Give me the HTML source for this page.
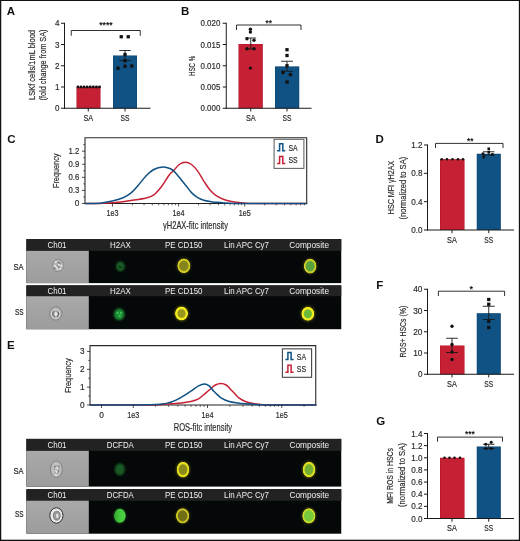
<!DOCTYPE html>
<html lang="en">
<head>
<meta charset="utf-8">
<title>Figure</title>
<style>
html,body{margin:0;padding:0;background:#fff;}
body{width:520px;height:541px;overflow:hidden;}
svg{display:block;}
svg text{font-family:'Liberation Sans', 'DejaVu Sans', sans-serif;}
</style>
</head>
<body>
<svg width="520" height="541" viewBox="0 0 520 541">
<defs>
<radialGradient id="rg0"><stop offset="0" stop-color="#86841c"/><stop offset="0.611" stop-color="#86841c"/><stop offset="0.753" stop-color="#d2cb22"/><stop offset="0.896" stop-color="#d2cb22"/><stop offset="1" stop-color="#d2cb22" stop-opacity="0"/></radialGradient>
<radialGradient id="rg1"><stop offset="0" stop-color="#98961c"/><stop offset="0.525" stop-color="#98961c"/><stop offset="0.691" stop-color="#f2ea1e"/><stop offset="0.892" stop-color="#f2ea1e"/><stop offset="1" stop-color="#f2ea1e" stop-opacity="0"/></radialGradient>
<radialGradient id="rg2"><stop offset="0" stop-color="#5aa440"/><stop offset="0.608" stop-color="#5aa440"/><stop offset="0.752" stop-color="#cfcf28"/><stop offset="0.895" stop-color="#cfcf28"/><stop offset="1" stop-color="#cfcf28" stop-opacity="0"/></radialGradient>
<radialGradient id="rg3"><stop offset="0" stop-color="#6cb83a"/><stop offset="0.525" stop-color="#6cb83a"/><stop offset="0.691" stop-color="#f2ec1e"/><stop offset="0.892" stop-color="#f2ec1e"/><stop offset="1" stop-color="#f2ec1e" stop-opacity="0"/></radialGradient>
<radialGradient id="rg4"><stop offset="0" stop-color="#8c8a1a"/><stop offset="0.592" stop-color="#8c8a1a"/><stop offset="0.738" stop-color="#e8e01e"/><stop offset="0.898" stop-color="#e8e01e"/><stop offset="1" stop-color="#e8e01e" stop-opacity="0"/></radialGradient>
<radialGradient id="rg5"><stop offset="0" stop-color="#706e16"/><stop offset="0.622" stop-color="#706e16"/><stop offset="0.760" stop-color="#cbc420"/><stop offset="0.899" stop-color="#cbc420"/><stop offset="1" stop-color="#cbc420" stop-opacity="0"/></radialGradient>
<radialGradient id="rg6"><stop offset="0" stop-color="#76b032"/><stop offset="0.605" stop-color="#76b032"/><stop offset="0.748" stop-color="#e2e220"/><stop offset="0.898" stop-color="#e2e220"/><stop offset="1" stop-color="#e2e220" stop-opacity="0"/></radialGradient>
<radialGradient id="rg7"><stop offset="0" stop-color="#7acb3a"/><stop offset="0.660" stop-color="#7acb3a"/><stop offset="0.789" stop-color="#cfdc2a"/><stop offset="0.898" stop-color="#cfdc2a"/><stop offset="1" stop-color="#cfdc2a" stop-opacity="0"/></radialGradient>
<filter id="b0" x="-30%" y="-30%" width="160%" height="160%"><feGaussianBlur stdDeviation="0.3"/></filter>
<filter id="b1" x="-30%" y="-30%" width="160%" height="160%"><feGaussianBlur stdDeviation="0.5"/></filter>
<linearGradient id="dg" x1="0" y1="0" x2="1" y2="0"><stop offset="0" stop-color="#2f9e30"/><stop offset="0.55" stop-color="#48d23e"/><stop offset="1" stop-color="#56e048"/></linearGradient>
<linearGradient id="gg" x1="0" y1="0" x2="0" y2="1"><stop offset="0" stop-color="#a9a9a9"/><stop offset="1" stop-color="#9c9c9c"/></linearGradient>
<filter id="b2" x="-40%" y="-40%" width="180%" height="180%"><feGaussianBlur stdDeviation="0.9"/></filter>
</defs>
<g opacity="0.999">
<rect x="0" y="0" width="520" height="541" fill="#ffffff"/>
<text x="6.80" y="15.20" font-size="11.5" text-anchor="start" fill="#111" font-weight="bold" >A</text>
<rect x="76.50" y="87.00" width="24.00" height="21.25" fill="#ad1328"/>
<rect x="76.95" y="87.45" width="23.10" height="20.80" fill="#c62035"/>
<rect x="113.00" y="55.50" width="24.00" height="52.75" fill="#0a426e"/>
<rect x="113.45" y="55.95" width="23.10" height="52.30" fill="#0f5283"/>
<line x1="64.50" y1="22.75" x2="64.50" y2="108.75" stroke="#1a1a1a" stroke-width="1" stroke-linecap="butt"/>
<line x1="64.00" y1="108.25" x2="150.50" y2="108.25" stroke="#1a1a1a" stroke-width="1" stroke-linecap="butt"/>
<line x1="61.00" y1="108.25" x2="64.50" y2="108.25" stroke="#1a1a1a" stroke-width="1.0" stroke-linecap="butt"/>
<text x="55.00" y="111.35" font-size="9" text-anchor="start" fill="#2a2a2a" textLength="4.50" lengthAdjust="spacingAndGlyphs" stroke="#2a2a2a" stroke-width="0.18" >0</text>
<line x1="61.00" y1="87.00" x2="64.50" y2="87.00" stroke="#1a1a1a" stroke-width="1.0" stroke-linecap="butt"/>
<text x="55.00" y="90.10" font-size="9" text-anchor="start" fill="#2a2a2a" textLength="4.50" lengthAdjust="spacingAndGlyphs" stroke="#2a2a2a" stroke-width="0.18" >1</text>
<line x1="61.00" y1="65.75" x2="64.50" y2="65.75" stroke="#1a1a1a" stroke-width="1.0" stroke-linecap="butt"/>
<text x="55.00" y="68.85" font-size="9" text-anchor="start" fill="#2a2a2a" textLength="4.50" lengthAdjust="spacingAndGlyphs" stroke="#2a2a2a" stroke-width="0.18" >2</text>
<line x1="61.00" y1="44.50" x2="64.50" y2="44.50" stroke="#1a1a1a" stroke-width="1.0" stroke-linecap="butt"/>
<text x="55.00" y="47.60" font-size="9" text-anchor="start" fill="#2a2a2a" textLength="4.50" lengthAdjust="spacingAndGlyphs" stroke="#2a2a2a" stroke-width="0.18" >3</text>
<line x1="61.00" y1="23.25" x2="64.50" y2="23.25" stroke="#1a1a1a" stroke-width="1.0" stroke-linecap="butt"/>
<text x="55.00" y="26.35" font-size="9" text-anchor="start" fill="#2a2a2a" textLength="4.50" lengthAdjust="spacingAndGlyphs" stroke="#2a2a2a" stroke-width="0.18" >4</text>
<line x1="88.25" y1="108.25" x2="88.25" y2="111.45" stroke="#1a1a1a" stroke-width="1.0" stroke-linecap="butt"/>
<text x="83.38" y="120.90" font-size="9" text-anchor="start" fill="#2a2a2a" textLength="9.75" lengthAdjust="spacingAndGlyphs" stroke="#2a2a2a" stroke-width="0.18" >SA</text>
<line x1="125.00" y1="108.25" x2="125.00" y2="111.45" stroke="#1a1a1a" stroke-width="1.0" stroke-linecap="butt"/>
<text x="120.55" y="120.90" font-size="9" text-anchor="start" fill="#2a2a2a" textLength="8.90" lengthAdjust="spacingAndGlyphs" stroke="#2a2a2a" stroke-width="0.18" >SS</text>
<text transform="translate(34.75 65.00) rotate(-90)" x="-35.00" y="0" font-size="9.8" text-anchor="start" fill="#2a2a2a" textLength="70.00" lengthAdjust="spacingAndGlyphs" stroke="#2a2a2a" stroke-width="0.18" >LSKf cells/1mL blood</text>
<text transform="translate(46.25 65.00) rotate(-90)" x="-35.50" y="0" font-size="9.8" text-anchor="start" fill="#2a2a2a" textLength="71.00" lengthAdjust="spacingAndGlyphs" stroke="#2a2a2a" stroke-width="0.18" >(fold change from SA)</text>
<path d="M71.25 35.75V30.50H140.25V35.75" fill="none" stroke="#1a1a1a" stroke-width="0.9"/>
<text x="99.20" y="28.15" font-size="9" text-anchor="start" fill="#111" textLength="13.40" lengthAdjust="spacingAndGlyphs" font-weight="bold" >****</text>
<line x1="125.00" y1="50.50" x2="125.00" y2="60.50" stroke="#1a1a1a" stroke-width="0.9" stroke-linecap="butt"/>
<line x1="119.25" y1="50.50" x2="130.75" y2="50.50" stroke="#1a1a1a" stroke-width="0.9" stroke-linecap="butt"/>
<line x1="119.25" y1="60.50" x2="130.75" y2="60.50" stroke="#1a1a1a" stroke-width="0.9" stroke-linecap="butt"/>
<circle cx="78.00" cy="87.00" r="1.45" fill="#111"/>
<circle cx="81.07" cy="87.00" r="1.45" fill="#111"/>
<circle cx="84.14" cy="87.00" r="1.45" fill="#111"/>
<circle cx="87.21" cy="87.00" r="1.45" fill="#111"/>
<circle cx="90.29" cy="87.00" r="1.45" fill="#111"/>
<circle cx="93.36" cy="87.00" r="1.45" fill="#111"/>
<circle cx="96.43" cy="87.00" r="1.45" fill="#111"/>
<circle cx="99.50" cy="87.00" r="1.45" fill="#111"/>
<rect x="119.60" y="35.10" width="3.3" height="3.3" fill="#111"/>
<rect x="126.60" y="35.10" width="3.3" height="3.3" fill="#111"/>
<rect x="123.35" y="52.85" width="3.3" height="3.3" fill="#111"/>
<rect x="123.35" y="59.10" width="3.3" height="3.3" fill="#111"/>
<rect x="116.35" y="66.60" width="3.3" height="3.3" fill="#111"/>
<rect x="123.35" y="64.60" width="3.3" height="3.3" fill="#111"/>
<rect x="130.10" y="64.35" width="3.3" height="3.3" fill="#111"/>
<text x="181.00" y="15.20" font-size="11.5" text-anchor="start" fill="#111" font-weight="bold" >B</text>
<rect x="238.50" y="44.00" width="24.25" height="64.25" fill="#ad1328"/>
<rect x="238.95" y="44.45" width="23.35" height="63.80" fill="#c62035"/>
<rect x="275.00" y="66.45" width="24.25" height="41.80" fill="#0a426e"/>
<rect x="275.45" y="66.90" width="23.35" height="41.35" fill="#0f5283"/>
<line x1="226.25" y1="22.75" x2="226.25" y2="108.75" stroke="#1a1a1a" stroke-width="1" stroke-linecap="butt"/>
<line x1="225.75" y1="108.25" x2="311.50" y2="108.25" stroke="#1a1a1a" stroke-width="1" stroke-linecap="butt"/>
<line x1="222.75" y1="108.25" x2="226.25" y2="108.25" stroke="#1a1a1a" stroke-width="1.0" stroke-linecap="butt"/>
<text x="200.50" y="111.35" font-size="9" text-anchor="start" fill="#2a2a2a" textLength="19.80" lengthAdjust="spacingAndGlyphs" stroke="#2a2a2a" stroke-width="0.18" >0.000</text>
<line x1="222.75" y1="87.00" x2="226.25" y2="87.00" stroke="#1a1a1a" stroke-width="1.0" stroke-linecap="butt"/>
<text x="200.50" y="90.10" font-size="9" text-anchor="start" fill="#2a2a2a" textLength="19.80" lengthAdjust="spacingAndGlyphs" stroke="#2a2a2a" stroke-width="0.18" >0.005</text>
<line x1="222.75" y1="65.75" x2="226.25" y2="65.75" stroke="#1a1a1a" stroke-width="1.0" stroke-linecap="butt"/>
<text x="200.50" y="68.85" font-size="9" text-anchor="start" fill="#2a2a2a" textLength="19.80" lengthAdjust="spacingAndGlyphs" stroke="#2a2a2a" stroke-width="0.18" >0.010</text>
<line x1="222.75" y1="44.50" x2="226.25" y2="44.50" stroke="#1a1a1a" stroke-width="1.0" stroke-linecap="butt"/>
<text x="200.50" y="47.60" font-size="9" text-anchor="start" fill="#2a2a2a" textLength="19.80" lengthAdjust="spacingAndGlyphs" stroke="#2a2a2a" stroke-width="0.18" >0.015</text>
<line x1="222.75" y1="23.25" x2="226.25" y2="23.25" stroke="#1a1a1a" stroke-width="1.0" stroke-linecap="butt"/>
<text x="200.50" y="26.35" font-size="9" text-anchor="start" fill="#2a2a2a" textLength="19.80" lengthAdjust="spacingAndGlyphs" stroke="#2a2a2a" stroke-width="0.18" >0.020</text>
<line x1="250.75" y1="108.25" x2="250.75" y2="111.45" stroke="#1a1a1a" stroke-width="1.0" stroke-linecap="butt"/>
<text x="245.88" y="120.90" font-size="9" text-anchor="start" fill="#2a2a2a" textLength="9.75" lengthAdjust="spacingAndGlyphs" stroke="#2a2a2a" stroke-width="0.18" >SA</text>
<line x1="287.00" y1="108.25" x2="287.00" y2="111.45" stroke="#1a1a1a" stroke-width="1.0" stroke-linecap="butt"/>
<text x="282.55" y="120.90" font-size="9" text-anchor="start" fill="#2a2a2a" textLength="8.90" lengthAdjust="spacingAndGlyphs" stroke="#2a2a2a" stroke-width="0.18" >SS</text>
<text transform="translate(195.20 65.90) rotate(-90)" x="-10.15" y="0" font-size="9.8" text-anchor="start" fill="#2a2a2a" textLength="20.30" lengthAdjust="spacingAndGlyphs" stroke="#2a2a2a" stroke-width="0.18" >HSC %</text>
<path d="M236.50 30.00V25.00H301.00V30.00" fill="none" stroke="#1a1a1a" stroke-width="0.9"/>
<text x="265.55" y="26.05" font-size="9" text-anchor="start" fill="#111" textLength="6.40" lengthAdjust="spacingAndGlyphs" font-weight="bold" >**</text>
<line x1="250.75" y1="38.00" x2="250.75" y2="49.00" stroke="#1a1a1a" stroke-width="0.9" stroke-linecap="butt"/>
<line x1="245.38" y1="38.00" x2="256.12" y2="38.00" stroke="#1a1a1a" stroke-width="0.9" stroke-linecap="butt"/>
<line x1="245.38" y1="49.00" x2="256.12" y2="49.00" stroke="#1a1a1a" stroke-width="0.9" stroke-linecap="butt"/>
<line x1="287.00" y1="61.25" x2="287.00" y2="71.25" stroke="#1a1a1a" stroke-width="0.9" stroke-linecap="butt"/>
<line x1="281.12" y1="61.25" x2="292.88" y2="61.25" stroke="#1a1a1a" stroke-width="0.9" stroke-linecap="butt"/>
<line x1="281.12" y1="71.25" x2="292.88" y2="71.25" stroke="#1a1a1a" stroke-width="0.9" stroke-linecap="butt"/>
<circle cx="250.40" cy="29.30" r="1.7" fill="#111"/>
<circle cx="250.40" cy="32.10" r="1.7" fill="#111"/>
<circle cx="247.00" cy="38.70" r="1.7" fill="#111"/>
<circle cx="254.00" cy="40.30" r="1.7" fill="#111"/>
<circle cx="247.00" cy="48.80" r="1.7" fill="#111"/>
<circle cx="254.00" cy="48.80" r="1.7" fill="#111"/>
<circle cx="250.40" cy="68.10" r="1.7" fill="#111"/>
<rect x="285.35" y="48.05" width="3.3" height="3.3" fill="#111"/>
<rect x="285.35" y="53.85" width="3.3" height="3.3" fill="#111"/>
<rect x="285.35" y="64.10" width="3.3" height="3.3" fill="#111"/>
<rect x="281.35" y="70.85" width="3.3" height="3.3" fill="#111"/>
<rect x="288.75" y="72.95" width="3.3" height="3.3" fill="#111"/>
<rect x="285.45" y="80.35" width="3.3" height="3.3" fill="#111"/>
<text x="375.50" y="143.00" font-size="11.5" text-anchor="start" fill="#111" font-weight="bold" >D</text>
<rect x="440.00" y="159.25" width="24.50" height="70.75" fill="#ad1328"/>
<rect x="440.45" y="159.70" width="23.60" height="70.30" fill="#c62035"/>
<rect x="476.75" y="153.75" width="24.00" height="76.25" fill="#0a426e"/>
<rect x="477.20" y="154.20" width="23.10" height="75.80" fill="#0f5283"/>
<line x1="427.50" y1="144.50" x2="427.50" y2="230.50" stroke="#1a1a1a" stroke-width="1" stroke-linecap="butt"/>
<line x1="427.00" y1="230.00" x2="514.00" y2="230.00" stroke="#1a1a1a" stroke-width="1" stroke-linecap="butt"/>
<line x1="424.00" y1="230.00" x2="427.50" y2="230.00" stroke="#1a1a1a" stroke-width="1.0" stroke-linecap="butt"/>
<text x="411.25" y="233.10" font-size="9" text-anchor="start" fill="#2a2a2a" textLength="11.25" lengthAdjust="spacingAndGlyphs" stroke="#2a2a2a" stroke-width="0.18" >0.0</text>
<line x1="424.00" y1="201.67" x2="427.50" y2="201.67" stroke="#1a1a1a" stroke-width="1.0" stroke-linecap="butt"/>
<text x="411.25" y="204.77" font-size="9" text-anchor="start" fill="#2a2a2a" textLength="11.25" lengthAdjust="spacingAndGlyphs" stroke="#2a2a2a" stroke-width="0.18" >0.4</text>
<line x1="424.00" y1="173.33" x2="427.50" y2="173.33" stroke="#1a1a1a" stroke-width="1.0" stroke-linecap="butt"/>
<text x="411.25" y="176.43" font-size="9" text-anchor="start" fill="#2a2a2a" textLength="11.25" lengthAdjust="spacingAndGlyphs" stroke="#2a2a2a" stroke-width="0.18" >0.8</text>
<line x1="424.00" y1="145.00" x2="427.50" y2="145.00" stroke="#1a1a1a" stroke-width="1.0" stroke-linecap="butt"/>
<text x="411.25" y="148.10" font-size="9" text-anchor="start" fill="#2a2a2a" textLength="11.25" lengthAdjust="spacingAndGlyphs" stroke="#2a2a2a" stroke-width="0.18" >1.2</text>
<line x1="452.00" y1="230.00" x2="452.00" y2="233.20" stroke="#1a1a1a" stroke-width="1.0" stroke-linecap="butt"/>
<text x="447.12" y="243.40" font-size="9" text-anchor="start" fill="#2a2a2a" textLength="9.75" lengthAdjust="spacingAndGlyphs" stroke="#2a2a2a" stroke-width="0.18" >SA</text>
<line x1="488.75" y1="230.00" x2="488.75" y2="233.20" stroke="#1a1a1a" stroke-width="1.0" stroke-linecap="butt"/>
<text x="484.30" y="243.40" font-size="9" text-anchor="start" fill="#2a2a2a" textLength="8.90" lengthAdjust="spacingAndGlyphs" stroke="#2a2a2a" stroke-width="0.18" >SS</text>
<text transform="translate(393.80 187.50) rotate(-90)" x="-26.75" y="0" font-size="9.8" text-anchor="start" fill="#2a2a2a" textLength="53.50" lengthAdjust="spacingAndGlyphs" stroke="#2a2a2a" stroke-width="0.18" >HSC MFI γH2AX</text>
<text transform="translate(405.60 188.10) rotate(-90)" x="-31.30" y="0" font-size="9.8" text-anchor="start" fill="#2a2a2a" textLength="62.60" lengthAdjust="spacingAndGlyphs" stroke="#2a2a2a" stroke-width="0.18" >(normalized to SA)</text>
<path d="M435.50 148.00V143.40H503.00V148.00" fill="none" stroke="#1a1a1a" stroke-width="0.9"/>
<text x="467.00" y="143.75" font-size="9" text-anchor="start" fill="#111" textLength="6.40" lengthAdjust="spacingAndGlyphs" font-weight="bold" >**</text>
<line x1="488.75" y1="151.75" x2="488.75" y2="155.00" stroke="#1a1a1a" stroke-width="0.9" stroke-linecap="butt"/>
<line x1="483.00" y1="151.75" x2="494.50" y2="151.75" stroke="#1a1a1a" stroke-width="0.9" stroke-linecap="butt"/>
<line x1="483.00" y1="155.00" x2="494.50" y2="155.00" stroke="#1a1a1a" stroke-width="0.9" stroke-linecap="butt"/>
<circle cx="441.75" cy="159.25" r="1.3" fill="#111"/>
<circle cx="447.00" cy="159.25" r="1.3" fill="#111"/>
<circle cx="452.50" cy="159.25" r="1.3" fill="#111"/>
<circle cx="458.00" cy="159.25" r="1.3" fill="#111"/>
<circle cx="463.00" cy="159.25" r="1.3" fill="#111"/>
<rect x="487.45" y="147.45" width="2.6" height="2.6" fill="#111"/>
<rect x="481.70" y="152.45" width="2.6" height="2.6" fill="#111"/>
<rect x="487.45" y="150.70" width="2.6" height="2.6" fill="#111"/>
<rect x="491.20" y="153.20" width="2.6" height="2.6" fill="#111"/>
<rect x="482.45" y="155.70" width="2.6" height="2.6" fill="#111"/>
<text x="376.30" y="288.60" font-size="11.5" text-anchor="start" fill="#111" font-weight="bold" >F</text>
<rect x="440.00" y="345.50" width="24.50" height="28.75" fill="#ad1328"/>
<rect x="440.45" y="345.95" width="23.60" height="28.30" fill="#c62035"/>
<rect x="476.75" y="313.25" width="24.00" height="61.00" fill="#0a426e"/>
<rect x="477.20" y="313.70" width="23.10" height="60.55" fill="#0f5283"/>
<line x1="427.50" y1="288.75" x2="427.50" y2="374.75" stroke="#1a1a1a" stroke-width="1" stroke-linecap="butt"/>
<line x1="427.00" y1="374.25" x2="514.00" y2="374.25" stroke="#1a1a1a" stroke-width="1" stroke-linecap="butt"/>
<line x1="424.00" y1="374.25" x2="427.50" y2="374.25" stroke="#1a1a1a" stroke-width="1.0" stroke-linecap="butt"/>
<text x="418.00" y="377.35" font-size="9" text-anchor="start" fill="#2a2a2a" textLength="4.50" lengthAdjust="spacingAndGlyphs" stroke="#2a2a2a" stroke-width="0.18" >0</text>
<line x1="424.00" y1="353.00" x2="427.50" y2="353.00" stroke="#1a1a1a" stroke-width="1.0" stroke-linecap="butt"/>
<text x="413.25" y="356.10" font-size="9" text-anchor="start" fill="#2a2a2a" textLength="9.25" lengthAdjust="spacingAndGlyphs" stroke="#2a2a2a" stroke-width="0.18" >10</text>
<line x1="424.00" y1="331.75" x2="427.50" y2="331.75" stroke="#1a1a1a" stroke-width="1.0" stroke-linecap="butt"/>
<text x="413.25" y="334.85" font-size="9" text-anchor="start" fill="#2a2a2a" textLength="9.25" lengthAdjust="spacingAndGlyphs" stroke="#2a2a2a" stroke-width="0.18" >20</text>
<line x1="424.00" y1="310.50" x2="427.50" y2="310.50" stroke="#1a1a1a" stroke-width="1.0" stroke-linecap="butt"/>
<text x="413.25" y="313.60" font-size="9" text-anchor="start" fill="#2a2a2a" textLength="9.25" lengthAdjust="spacingAndGlyphs" stroke="#2a2a2a" stroke-width="0.18" >30</text>
<line x1="424.00" y1="289.25" x2="427.50" y2="289.25" stroke="#1a1a1a" stroke-width="1.0" stroke-linecap="butt"/>
<text x="413.25" y="292.35" font-size="9" text-anchor="start" fill="#2a2a2a" textLength="9.25" lengthAdjust="spacingAndGlyphs" stroke="#2a2a2a" stroke-width="0.18" >40</text>
<line x1="452.00" y1="374.25" x2="452.00" y2="377.45" stroke="#1a1a1a" stroke-width="1.0" stroke-linecap="butt"/>
<text x="447.12" y="386.65" font-size="9" text-anchor="start" fill="#2a2a2a" textLength="9.75" lengthAdjust="spacingAndGlyphs" stroke="#2a2a2a" stroke-width="0.18" >SA</text>
<line x1="488.75" y1="374.25" x2="488.75" y2="377.45" stroke="#1a1a1a" stroke-width="1.0" stroke-linecap="butt"/>
<text x="484.30" y="386.65" font-size="9" text-anchor="start" fill="#2a2a2a" textLength="8.90" lengthAdjust="spacingAndGlyphs" stroke="#2a2a2a" stroke-width="0.18" >SS</text>
<text transform="translate(406.30 331.60) rotate(-90)" x="-25.88" y="0" font-size="9.8" text-anchor="start" fill="#2a2a2a" textLength="51.75" lengthAdjust="spacingAndGlyphs" stroke="#2a2a2a" stroke-width="0.18" >ROS+ HSCs (%)</text>
<path d="M438.40 296.00V291.20H504.60V296.00" fill="none" stroke="#1a1a1a" stroke-width="0.9"/>
<text x="471.25" y="291.55" font-size="9" text-anchor="middle" fill="#111" font-weight="bold" >*</text>
<line x1="452.00" y1="338.25" x2="452.00" y2="352.50" stroke="#1a1a1a" stroke-width="0.9" stroke-linecap="butt"/>
<line x1="446.12" y1="338.25" x2="457.88" y2="338.25" stroke="#1a1a1a" stroke-width="0.9" stroke-linecap="butt"/>
<line x1="446.12" y1="352.50" x2="457.88" y2="352.50" stroke="#1a1a1a" stroke-width="0.9" stroke-linecap="butt"/>
<line x1="488.75" y1="306.25" x2="488.75" y2="319.50" stroke="#1a1a1a" stroke-width="0.9" stroke-linecap="butt"/>
<line x1="482.75" y1="306.25" x2="494.75" y2="306.25" stroke="#1a1a1a" stroke-width="0.9" stroke-linecap="butt"/>
<line x1="482.75" y1="319.50" x2="494.75" y2="319.50" stroke="#1a1a1a" stroke-width="0.9" stroke-linecap="butt"/>
<circle cx="452.00" cy="326.25" r="1.7" fill="#111"/>
<circle cx="452.00" cy="344.50" r="1.7" fill="#111"/>
<circle cx="452.00" cy="352.00" r="1.7" fill="#111"/>
<circle cx="452.00" cy="359.50" r="1.7" fill="#111"/>
<rect x="487.10" y="297.85" width="3.3" height="3.3" fill="#111"/>
<rect x="487.10" y="302.60" width="3.3" height="3.3" fill="#111"/>
<rect x="487.10" y="319.60" width="3.3" height="3.3" fill="#111"/>
<rect x="487.10" y="325.85" width="3.3" height="3.3" fill="#111"/>
<text x="376.30" y="425.00" font-size="11.5" text-anchor="start" fill="#111" font-weight="bold" >G</text>
<rect x="440.00" y="457.75" width="24.50" height="60.75" fill="#ad1328"/>
<rect x="440.45" y="458.20" width="23.60" height="60.30" fill="#c62035"/>
<rect x="476.75" y="446.50" width="24.00" height="72.00" fill="#0a426e"/>
<rect x="477.20" y="446.95" width="23.10" height="71.55" fill="#0f5283"/>
<line x1="427.50" y1="433.00" x2="427.50" y2="519.00" stroke="#1a1a1a" stroke-width="1" stroke-linecap="butt"/>
<line x1="427.00" y1="518.50" x2="514.00" y2="518.50" stroke="#1a1a1a" stroke-width="1" stroke-linecap="butt"/>
<line x1="424.00" y1="518.50" x2="427.50" y2="518.50" stroke="#1a1a1a" stroke-width="1.0" stroke-linecap="butt"/>
<text x="411.25" y="521.60" font-size="9" text-anchor="start" fill="#2a2a2a" textLength="11.25" lengthAdjust="spacingAndGlyphs" stroke="#2a2a2a" stroke-width="0.18" >0.0</text>
<line x1="424.00" y1="506.36" x2="427.50" y2="506.36" stroke="#1a1a1a" stroke-width="1.0" stroke-linecap="butt"/>
<text x="411.25" y="509.46" font-size="9" text-anchor="start" fill="#2a2a2a" textLength="11.25" lengthAdjust="spacingAndGlyphs" stroke="#2a2a2a" stroke-width="0.18" >0.2</text>
<line x1="424.00" y1="494.21" x2="427.50" y2="494.21" stroke="#1a1a1a" stroke-width="1.0" stroke-linecap="butt"/>
<text x="411.25" y="497.31" font-size="9" text-anchor="start" fill="#2a2a2a" textLength="11.25" lengthAdjust="spacingAndGlyphs" stroke="#2a2a2a" stroke-width="0.18" >0.4</text>
<line x1="424.00" y1="482.07" x2="427.50" y2="482.07" stroke="#1a1a1a" stroke-width="1.0" stroke-linecap="butt"/>
<text x="411.25" y="485.17" font-size="9" text-anchor="start" fill="#2a2a2a" textLength="11.25" lengthAdjust="spacingAndGlyphs" stroke="#2a2a2a" stroke-width="0.18" >0.6</text>
<line x1="424.00" y1="469.93" x2="427.50" y2="469.93" stroke="#1a1a1a" stroke-width="1.0" stroke-linecap="butt"/>
<text x="411.25" y="473.03" font-size="9" text-anchor="start" fill="#2a2a2a" textLength="11.25" lengthAdjust="spacingAndGlyphs" stroke="#2a2a2a" stroke-width="0.18" >0.8</text>
<line x1="424.00" y1="457.79" x2="427.50" y2="457.79" stroke="#1a1a1a" stroke-width="1.0" stroke-linecap="butt"/>
<text x="411.25" y="460.89" font-size="9" text-anchor="start" fill="#2a2a2a" textLength="11.25" lengthAdjust="spacingAndGlyphs" stroke="#2a2a2a" stroke-width="0.18" >1.0</text>
<line x1="424.00" y1="445.64" x2="427.50" y2="445.64" stroke="#1a1a1a" stroke-width="1.0" stroke-linecap="butt"/>
<text x="411.25" y="448.74" font-size="9" text-anchor="start" fill="#2a2a2a" textLength="11.25" lengthAdjust="spacingAndGlyphs" stroke="#2a2a2a" stroke-width="0.18" >1.2</text>
<line x1="424.00" y1="433.50" x2="427.50" y2="433.50" stroke="#1a1a1a" stroke-width="1.0" stroke-linecap="butt"/>
<text x="411.25" y="436.60" font-size="9" text-anchor="start" fill="#2a2a2a" textLength="11.25" lengthAdjust="spacingAndGlyphs" stroke="#2a2a2a" stroke-width="0.18" >1.4</text>
<line x1="452.00" y1="518.50" x2="452.00" y2="521.70" stroke="#1a1a1a" stroke-width="1.0" stroke-linecap="butt"/>
<text x="447.12" y="531.15" font-size="9" text-anchor="start" fill="#2a2a2a" textLength="9.75" lengthAdjust="spacingAndGlyphs" stroke="#2a2a2a" stroke-width="0.18" >SA</text>
<line x1="488.75" y1="518.50" x2="488.75" y2="521.70" stroke="#1a1a1a" stroke-width="1.0" stroke-linecap="butt"/>
<text x="484.30" y="531.15" font-size="9" text-anchor="start" fill="#2a2a2a" textLength="8.90" lengthAdjust="spacingAndGlyphs" stroke="#2a2a2a" stroke-width="0.18" >SS</text>
<text transform="translate(393.40 475.85) rotate(-90)" x="-27.85" y="0" font-size="9.8" text-anchor="start" fill="#2a2a2a" textLength="55.70" lengthAdjust="spacingAndGlyphs" stroke="#2a2a2a" stroke-width="0.18" >MFI ROS in HSCs</text>
<text transform="translate(405.20 475.00) rotate(-90)" x="-32.00" y="0" font-size="9.8" text-anchor="start" fill="#2a2a2a" textLength="64.00" lengthAdjust="spacingAndGlyphs" stroke="#2a2a2a" stroke-width="0.18" >(normalized to SA)</text>
<path d="M437.50 441.70V437.10H502.50V441.70" fill="none" stroke="#1a1a1a" stroke-width="0.9"/>
<text x="465.10" y="437.35" font-size="9" text-anchor="start" fill="#111" textLength="9.80" lengthAdjust="spacingAndGlyphs" font-weight="bold" >***</text>
<line x1="488.75" y1="444.25" x2="488.75" y2="448.50" stroke="#1a1a1a" stroke-width="0.9" stroke-linecap="butt"/>
<line x1="483.00" y1="444.25" x2="494.50" y2="444.25" stroke="#1a1a1a" stroke-width="0.9" stroke-linecap="butt"/>
<line x1="483.00" y1="448.50" x2="494.50" y2="448.50" stroke="#1a1a1a" stroke-width="0.9" stroke-linecap="butt"/>
<circle cx="444.50" cy="457.75" r="1.3" fill="#111"/>
<circle cx="449.50" cy="457.75" r="1.3" fill="#111"/>
<circle cx="454.50" cy="457.75" r="1.3" fill="#111"/>
<circle cx="460.00" cy="457.75" r="1.3" fill="#111"/>
<circle cx="485.80" cy="444.30" r="1.5" fill="#111"/>
<circle cx="491.20" cy="442.30" r="1.5" fill="#111"/>
<circle cx="486.00" cy="448.60" r="1.5" fill="#111"/>
<circle cx="491.20" cy="448.50" r="1.5" fill="#111"/>
<text x="7.20" y="143.00" font-size="11.5" text-anchor="start" fill="#111" font-weight="bold" >C</text>
<rect x="85.00" y="137.80" width="221.70" height="65.70" fill="#ffffff"/>
<path d="M85.00 203.50V137.80H306.70V203.50" fill="none" stroke="#2a2a2a" stroke-width="1.1"/>
<line x1="84.50" y1="203.50" x2="307.20" y2="203.50" stroke="#222" stroke-width="1.1" stroke-linecap="butt"/>
<path d="M85.5 203.5C87.9 203.5 95.0 203.6 100.0 203.4C105.0 203.2 110.3 203.1 115.4 202.6C120.5 202.1 125.7 201.4 130.8 200.6C135.9 199.8 142.4 198.9 146.2 198.0C150.0 197.1 151.2 196.8 153.8 194.9C156.4 193.0 158.9 189.8 161.5 186.5C164.1 183.2 167.0 177.8 169.2 175.0C171.4 172.2 172.9 171.2 174.6 169.5C176.3 167.8 177.4 165.7 179.2 164.5C181.0 163.3 183.3 162.3 185.4 162.3C187.5 162.3 189.4 163.0 191.5 164.5C193.6 166.0 195.6 168.3 197.7 171.1C199.8 173.9 201.8 177.9 203.8 181.1C205.9 184.2 207.9 187.6 210.0 190.0C212.1 192.4 213.9 194.1 216.2 195.7C218.5 197.3 221.2 198.6 223.8 199.5C226.4 200.4 228.9 200.9 231.5 201.4C234.1 201.9 236.1 202.3 239.2 202.6C242.3 202.9 244.9 203.2 250.0 203.4C255.1 203.6 260.6 203.5 270.0 203.5C279.4 203.5 300.4 203.5 306.5 203.5" fill="none" stroke="#c62035" stroke-width="1.5" stroke-linejoin="round" stroke-linecap="round"/>
<path d="M85.5 203.5C87.9 203.4 95.5 203.6 100.0 203.2C104.5 202.8 108.5 202.0 112.3 201.1C116.1 200.2 120.0 199.0 123.1 197.7C126.2 196.4 128.2 195.2 130.8 193.1C133.4 191.0 135.9 187.8 138.5 184.9C141.1 182.0 143.6 178.3 146.2 175.7C148.8 173.1 151.0 171.0 153.8 169.5C156.6 168.0 160.4 167.1 163.1 166.9C165.8 166.7 168.1 167.7 170.0 168.5C171.9 169.3 173.1 170.4 174.6 171.9C176.1 173.4 177.4 175.1 179.2 177.3C181.0 179.5 183.3 182.4 185.4 184.9C187.5 187.4 189.4 190.5 191.5 192.6C193.6 194.7 195.6 196.4 197.7 197.7C199.8 199.0 201.8 199.7 203.8 200.3C205.9 200.9 207.9 201.2 210.0 201.5C212.1 201.8 213.9 202.1 216.2 202.3C218.5 202.5 220.7 202.7 223.8 202.9C226.9 203.1 228.6 203.3 234.6 203.4C240.6 203.5 248.0 203.5 260.0 203.5C272.0 203.5 298.8 203.5 306.5 203.5" fill="none" stroke="#0f5283" stroke-width="1.5" stroke-linejoin="round" stroke-linecap="round"/>
<line x1="82.00" y1="203.50" x2="85.00" y2="203.50" stroke="#222" stroke-width="0.8" stroke-linecap="butt"/>
<text x="74.70" y="206.40" font-size="8.5" text-anchor="start" fill="#2a2a2a" textLength="4.60" lengthAdjust="spacingAndGlyphs" stroke="#2a2a2a" stroke-width="0.18" >0</text>
<line x1="82.00" y1="190.42" x2="85.00" y2="190.42" stroke="#222" stroke-width="0.8" stroke-linecap="butt"/>
<text x="68.50" y="193.32" font-size="8.5" text-anchor="start" fill="#2a2a2a" textLength="10.80" lengthAdjust="spacingAndGlyphs" stroke="#2a2a2a" stroke-width="0.18" >0.3</text>
<line x1="82.00" y1="177.34" x2="85.00" y2="177.34" stroke="#222" stroke-width="0.8" stroke-linecap="butt"/>
<text x="68.50" y="180.24" font-size="8.5" text-anchor="start" fill="#2a2a2a" textLength="10.80" lengthAdjust="spacingAndGlyphs" stroke="#2a2a2a" stroke-width="0.18" >0.6</text>
<line x1="82.00" y1="164.26" x2="85.00" y2="164.26" stroke="#222" stroke-width="0.8" stroke-linecap="butt"/>
<text x="68.50" y="167.16" font-size="8.5" text-anchor="start" fill="#2a2a2a" textLength="10.80" lengthAdjust="spacingAndGlyphs" stroke="#2a2a2a" stroke-width="0.18" >0.9</text>
<line x1="82.00" y1="151.18" x2="85.00" y2="151.18" stroke="#222" stroke-width="0.8" stroke-linecap="butt"/>
<text x="68.50" y="154.08" font-size="8.5" text-anchor="start" fill="#2a2a2a" textLength="10.80" lengthAdjust="spacingAndGlyphs" stroke="#2a2a2a" stroke-width="0.18" >1.2</text>
<line x1="83.20" y1="196.96" x2="85.00" y2="196.96" stroke="#222" stroke-width="0.7" stroke-linecap="butt"/>
<line x1="83.20" y1="183.88" x2="85.00" y2="183.88" stroke="#222" stroke-width="0.7" stroke-linecap="butt"/>
<line x1="83.20" y1="170.80" x2="85.00" y2="170.80" stroke="#222" stroke-width="0.7" stroke-linecap="butt"/>
<line x1="83.20" y1="157.72" x2="85.00" y2="157.72" stroke="#222" stroke-width="0.7" stroke-linecap="butt"/>
<line x1="83.20" y1="144.64" x2="85.00" y2="144.64" stroke="#222" stroke-width="0.7" stroke-linecap="butt"/>
<line x1="112.50" y1="203.50" x2="112.50" y2="206.50" stroke="#222" stroke-width="0.8" stroke-linecap="butt"/>
<text x="106.50" y="215.90" font-size="8.5" text-anchor="start" fill="#2a2a2a" textLength="12.00" lengthAdjust="spacingAndGlyphs" stroke="#2a2a2a" stroke-width="0.18" >1e3</text>
<line x1="178.60" y1="203.50" x2="178.60" y2="206.50" stroke="#222" stroke-width="0.8" stroke-linecap="butt"/>
<text x="172.60" y="215.90" font-size="8.5" text-anchor="start" fill="#2a2a2a" textLength="12.00" lengthAdjust="spacingAndGlyphs" stroke="#2a2a2a" stroke-width="0.18" >1e4</text>
<line x1="244.70" y1="203.50" x2="244.70" y2="206.50" stroke="#222" stroke-width="0.8" stroke-linecap="butt"/>
<text x="238.70" y="215.90" font-size="8.5" text-anchor="start" fill="#2a2a2a" textLength="12.00" lengthAdjust="spacingAndGlyphs" stroke="#2a2a2a" stroke-width="0.18" >1e5</text>
<line x1="132.40" y1="203.50" x2="132.40" y2="205.30" stroke="#222" stroke-width="0.7" stroke-linecap="butt"/>
<line x1="144.04" y1="203.50" x2="144.04" y2="205.30" stroke="#222" stroke-width="0.7" stroke-linecap="butt"/>
<line x1="152.30" y1="203.50" x2="152.30" y2="205.30" stroke="#222" stroke-width="0.7" stroke-linecap="butt"/>
<line x1="158.70" y1="203.50" x2="158.70" y2="205.30" stroke="#222" stroke-width="0.7" stroke-linecap="butt"/>
<line x1="163.94" y1="203.50" x2="163.94" y2="205.30" stroke="#222" stroke-width="0.7" stroke-linecap="butt"/>
<line x1="168.36" y1="203.50" x2="168.36" y2="205.30" stroke="#222" stroke-width="0.7" stroke-linecap="butt"/>
<line x1="172.19" y1="203.50" x2="172.19" y2="205.30" stroke="#222" stroke-width="0.7" stroke-linecap="butt"/>
<line x1="175.58" y1="203.50" x2="175.58" y2="205.30" stroke="#222" stroke-width="0.7" stroke-linecap="butt"/>
<line x1="198.50" y1="203.50" x2="198.50" y2="205.30" stroke="#222" stroke-width="0.7" stroke-linecap="butt"/>
<line x1="210.14" y1="203.50" x2="210.14" y2="205.30" stroke="#222" stroke-width="0.7" stroke-linecap="butt"/>
<line x1="218.40" y1="203.50" x2="218.40" y2="205.30" stroke="#222" stroke-width="0.7" stroke-linecap="butt"/>
<line x1="224.80" y1="203.50" x2="224.80" y2="205.30" stroke="#222" stroke-width="0.7" stroke-linecap="butt"/>
<line x1="230.04" y1="203.50" x2="230.04" y2="205.30" stroke="#222" stroke-width="0.7" stroke-linecap="butt"/>
<line x1="234.46" y1="203.50" x2="234.46" y2="205.30" stroke="#222" stroke-width="0.7" stroke-linecap="butt"/>
<line x1="238.29" y1="203.50" x2="238.29" y2="205.30" stroke="#222" stroke-width="0.7" stroke-linecap="butt"/>
<line x1="241.68" y1="203.50" x2="241.68" y2="205.30" stroke="#222" stroke-width="0.7" stroke-linecap="butt"/>
<line x1="264.60" y1="203.50" x2="264.60" y2="205.30" stroke="#222" stroke-width="0.7" stroke-linecap="butt"/>
<line x1="276.24" y1="203.50" x2="276.24" y2="205.30" stroke="#222" stroke-width="0.7" stroke-linecap="butt"/>
<line x1="284.50" y1="203.50" x2="284.50" y2="205.30" stroke="#222" stroke-width="0.7" stroke-linecap="butt"/>
<line x1="290.90" y1="203.50" x2="290.90" y2="205.30" stroke="#222" stroke-width="0.7" stroke-linecap="butt"/>
<line x1="296.14" y1="203.50" x2="296.14" y2="205.30" stroke="#222" stroke-width="0.7" stroke-linecap="butt"/>
<line x1="300.56" y1="203.50" x2="300.56" y2="205.30" stroke="#222" stroke-width="0.7" stroke-linecap="butt"/>
<line x1="304.39" y1="203.50" x2="304.39" y2="205.30" stroke="#222" stroke-width="0.7" stroke-linecap="butt"/>
<text x="163.10" y="228.65" font-size="10.8" text-anchor="start" fill="#2a2a2a" textLength="64.80" lengthAdjust="spacingAndGlyphs" stroke="#2a2a2a" stroke-width="0.18" >γH2AX-fitc intensity</text>
<text transform="translate(59.40 170.80) rotate(-90)" x="-17.25" y="0" font-size="9.8" text-anchor="start" fill="#2a2a2a" textLength="34.50" lengthAdjust="spacingAndGlyphs" stroke="#2a2a2a" stroke-width="0.18" >Frequency</text>
<rect x="274.10" y="139.30" width="29.80" height="29.10" fill="#ffffff" stroke="#666" stroke-width="1.1"/>
<path d="M277.10 150.85h2.5v-7.1h3.2v7.1h2.5" fill="none" stroke="#0f5283" stroke-width="1.5" stroke-linejoin="miter"/>
<text x="288.50" y="150.95" font-size="9" text-anchor="start" fill="#2a2a2a" textLength="9.20" lengthAdjust="spacingAndGlyphs" stroke="#2a2a2a" stroke-width="0.18" >SA</text>
<path d="M277.10 163.55h2.5v-7.1h3.2v7.1h2.5" fill="none" stroke="#c62035" stroke-width="1.5" stroke-linejoin="miter"/>
<text x="288.50" y="163.15" font-size="9" text-anchor="start" fill="#2a2a2a" textLength="9.20" lengthAdjust="spacingAndGlyphs" stroke="#2a2a2a" stroke-width="0.18" >SS</text>
<text x="6.90" y="349.40" font-size="11.5" text-anchor="start" fill="#111" font-weight="bold" >E</text>
<rect x="90.00" y="345.60" width="225.75" height="59.40" fill="#ffffff"/>
<path d="M90.00 405.00V345.60H315.75V405.00" fill="none" stroke="#2a2a2a" stroke-width="1.1"/>
<line x1="89.50" y1="405.00" x2="316.25" y2="405.00" stroke="#222" stroke-width="1.1" stroke-linecap="butt"/>
<path d="M90.5 405.0C98.8 405.0 128.4 405.1 140.0 405.0C151.6 404.9 154.1 404.9 160.0 404.7C165.9 404.4 171.6 403.8 175.4 403.5C179.2 403.2 180.5 403.0 183.1 402.7C185.7 402.4 188.2 402.1 190.8 401.5C193.4 400.9 195.9 400.3 198.5 398.9C201.1 397.4 204.0 394.5 206.2 392.7C208.4 390.9 210.0 389.3 211.5 388.0C213.0 386.7 213.8 385.8 215.4 385.0C217.0 384.2 219.0 383.5 220.8 383.5C222.6 383.5 224.7 384.1 226.2 385.0C227.7 385.9 228.6 387.4 230.0 388.8C231.4 390.2 233.1 391.9 234.6 393.5C236.1 395.1 237.4 396.8 239.2 398.1C241.0 399.4 243.1 400.6 245.4 401.5C247.7 402.4 250.5 403.0 253.1 403.5C255.7 404.0 258.0 404.2 260.8 404.5C263.6 404.8 260.8 404.9 270.0 405.0C279.2 405.1 308.2 405.0 315.8 405.0" fill="none" stroke="#c62035" stroke-width="1.5" stroke-linejoin="round" stroke-linecap="round"/>
<path d="M90.5 405.0C97.1 405.0 120.1 404.9 130.0 404.9C139.9 404.8 145.0 404.8 150.0 404.7C155.0 404.6 157.1 404.5 160.0 404.2C162.9 403.9 165.1 403.8 167.7 403.1C170.3 402.5 172.8 401.6 175.4 400.4C178.0 399.2 180.5 397.7 183.1 396.2C185.7 394.7 188.2 392.9 190.8 391.2C193.4 389.5 196.2 387.0 198.5 385.8C200.8 384.6 202.8 383.9 204.6 383.9C206.4 383.9 207.7 384.6 209.2 385.8C210.7 387.0 211.8 389.1 213.8 391.2C215.9 393.2 218.9 396.4 221.5 398.1C224.1 399.8 226.5 400.7 229.2 401.5C231.9 402.3 235.0 402.6 237.7 403.0C240.4 403.4 241.6 403.5 245.4 403.8C249.2 404.1 255.7 404.5 260.8 404.7C265.9 404.9 266.8 404.9 276.0 405.0C285.2 405.1 309.2 405.0 315.8 405.0" fill="none" stroke="#0f5283" stroke-width="1.5" stroke-linejoin="round" stroke-linecap="round"/>
<line x1="87.00" y1="405.00" x2="90.00" y2="405.00" stroke="#222" stroke-width="0.8" stroke-linecap="butt"/>
<text x="79.90" y="407.90" font-size="8.5" text-anchor="start" fill="#2a2a2a" textLength="4.60" lengthAdjust="spacingAndGlyphs" stroke="#2a2a2a" stroke-width="0.18" >0</text>
<line x1="87.00" y1="387.15" x2="90.00" y2="387.15" stroke="#222" stroke-width="0.8" stroke-linecap="butt"/>
<text x="79.90" y="390.05" font-size="8.5" text-anchor="start" fill="#2a2a2a" textLength="4.60" lengthAdjust="spacingAndGlyphs" stroke="#2a2a2a" stroke-width="0.18" >1</text>
<line x1="87.00" y1="369.30" x2="90.00" y2="369.30" stroke="#222" stroke-width="0.8" stroke-linecap="butt"/>
<text x="79.90" y="372.20" font-size="8.5" text-anchor="start" fill="#2a2a2a" textLength="4.60" lengthAdjust="spacingAndGlyphs" stroke="#2a2a2a" stroke-width="0.18" >2</text>
<line x1="87.00" y1="351.45" x2="90.00" y2="351.45" stroke="#222" stroke-width="0.8" stroke-linecap="butt"/>
<text x="79.90" y="354.35" font-size="8.5" text-anchor="start" fill="#2a2a2a" textLength="4.60" lengthAdjust="spacingAndGlyphs" stroke="#2a2a2a" stroke-width="0.18" >3</text>
<line x1="88.20" y1="396.07" x2="90.00" y2="396.07" stroke="#222" stroke-width="0.7" stroke-linecap="butt"/>
<line x1="88.20" y1="378.23" x2="90.00" y2="378.23" stroke="#222" stroke-width="0.7" stroke-linecap="butt"/>
<line x1="88.20" y1="360.38" x2="90.00" y2="360.38" stroke="#222" stroke-width="0.7" stroke-linecap="butt"/>
<line x1="101.50" y1="405.00" x2="101.50" y2="408.00" stroke="#222" stroke-width="0.8" stroke-linecap="butt"/>
<text x="99.20" y="417.90" font-size="8.5" text-anchor="start" fill="#2a2a2a" textLength="4.60" lengthAdjust="spacingAndGlyphs" stroke="#2a2a2a" stroke-width="0.18" >0</text>
<line x1="133.25" y1="405.00" x2="133.25" y2="408.00" stroke="#222" stroke-width="0.8" stroke-linecap="butt"/>
<text x="127.25" y="417.90" font-size="8.5" text-anchor="start" fill="#2a2a2a" textLength="12.00" lengthAdjust="spacingAndGlyphs" stroke="#2a2a2a" stroke-width="0.18" >1e3</text>
<line x1="207.50" y1="405.00" x2="207.50" y2="408.00" stroke="#222" stroke-width="0.8" stroke-linecap="butt"/>
<text x="201.50" y="417.90" font-size="8.5" text-anchor="start" fill="#2a2a2a" textLength="12.00" lengthAdjust="spacingAndGlyphs" stroke="#2a2a2a" stroke-width="0.18" >1e4</text>
<line x1="281.75" y1="405.00" x2="281.75" y2="408.00" stroke="#222" stroke-width="0.8" stroke-linecap="butt"/>
<text x="275.75" y="417.90" font-size="8.5" text-anchor="start" fill="#2a2a2a" textLength="12.00" lengthAdjust="spacingAndGlyphs" stroke="#2a2a2a" stroke-width="0.18" >1e5</text>
<line x1="155.60" y1="405.00" x2="155.60" y2="406.80" stroke="#222" stroke-width="0.7" stroke-linecap="butt"/>
<line x1="168.68" y1="405.00" x2="168.68" y2="406.80" stroke="#222" stroke-width="0.7" stroke-linecap="butt"/>
<line x1="177.95" y1="405.00" x2="177.95" y2="406.80" stroke="#222" stroke-width="0.7" stroke-linecap="butt"/>
<line x1="185.15" y1="405.00" x2="185.15" y2="406.80" stroke="#222" stroke-width="0.7" stroke-linecap="butt"/>
<line x1="191.03" y1="405.00" x2="191.03" y2="406.80" stroke="#222" stroke-width="0.7" stroke-linecap="butt"/>
<line x1="196.00" y1="405.00" x2="196.00" y2="406.80" stroke="#222" stroke-width="0.7" stroke-linecap="butt"/>
<line x1="200.30" y1="405.00" x2="200.30" y2="406.80" stroke="#222" stroke-width="0.7" stroke-linecap="butt"/>
<line x1="204.10" y1="405.00" x2="204.10" y2="406.80" stroke="#222" stroke-width="0.7" stroke-linecap="butt"/>
<line x1="229.85" y1="405.00" x2="229.85" y2="406.80" stroke="#222" stroke-width="0.7" stroke-linecap="butt"/>
<line x1="242.93" y1="405.00" x2="242.93" y2="406.80" stroke="#222" stroke-width="0.7" stroke-linecap="butt"/>
<line x1="252.20" y1="405.00" x2="252.20" y2="406.80" stroke="#222" stroke-width="0.7" stroke-linecap="butt"/>
<line x1="259.40" y1="405.00" x2="259.40" y2="406.80" stroke="#222" stroke-width="0.7" stroke-linecap="butt"/>
<line x1="265.28" y1="405.00" x2="265.28" y2="406.80" stroke="#222" stroke-width="0.7" stroke-linecap="butt"/>
<line x1="270.25" y1="405.00" x2="270.25" y2="406.80" stroke="#222" stroke-width="0.7" stroke-linecap="butt"/>
<line x1="274.55" y1="405.00" x2="274.55" y2="406.80" stroke="#222" stroke-width="0.7" stroke-linecap="butt"/>
<line x1="278.35" y1="405.00" x2="278.35" y2="406.80" stroke="#222" stroke-width="0.7" stroke-linecap="butt"/>
<line x1="304.10" y1="405.00" x2="304.10" y2="406.80" stroke="#222" stroke-width="0.7" stroke-linecap="butt"/>
<text x="173.78" y="431.00" font-size="10.8" text-anchor="start" fill="#2a2a2a" textLength="58.25" lengthAdjust="spacingAndGlyphs" stroke="#2a2a2a" stroke-width="0.18" >ROS-fitc intensity</text>
<text transform="translate(71.15 375.60) rotate(-90)" x="-17.25" y="0" font-size="9.8" text-anchor="start" fill="#2a2a2a" textLength="34.50" lengthAdjust="spacingAndGlyphs" stroke="#2a2a2a" stroke-width="0.18" >Frequency</text>
<rect x="282.40" y="348.85" width="29.20" height="28.45" fill="#ffffff" stroke="#444" stroke-width="1.1"/>
<path d="M285.40 359.60h2.5v-7.1h3.2v7.1h2.5" fill="none" stroke="#0f5283" stroke-width="1.5" stroke-linejoin="miter"/>
<text x="296.80" y="359.70" font-size="9" text-anchor="start" fill="#2a2a2a" textLength="9.20" lengthAdjust="spacingAndGlyphs" stroke="#2a2a2a" stroke-width="0.18" >SA</text>
<path d="M285.40 372.30h2.5v-7.1h3.2v7.1h2.5" fill="none" stroke="#c62035" stroke-width="1.5" stroke-linejoin="miter"/>
<text x="296.80" y="371.90" font-size="9" text-anchor="start" fill="#2a2a2a" textLength="9.20" lengthAdjust="spacingAndGlyphs" stroke="#2a2a2a" stroke-width="0.18" >SS</text>
<rect x="26.40" y="239.10" width="314.85" height="44.00" fill="#050808"/>
<rect x="26.40" y="239.10" width="314.85" height="11.75" fill="#222222"/>
<rect x="26.4" y="250.85" width="62.4" height="32.25" fill="url(#gg)"/>
<text x="47.50" y="248.47" font-size="9" text-anchor="start" fill="#f0f0f0" textLength="19.00" lengthAdjust="spacingAndGlyphs" >Ch01</text>
<text x="110.03" y="248.47" font-size="9" text-anchor="start" fill="#f0f0f0" textLength="20.75" lengthAdjust="spacingAndGlyphs" >H2AX</text>
<text x="165.00" y="248.47" font-size="9" text-anchor="start" fill="#f0f0f0" textLength="37.50" lengthAdjust="spacingAndGlyphs" >PE CD150</text>
<text x="224.00" y="248.47" font-size="9" text-anchor="start" fill="#f0f0f0" textLength="45.00" lengthAdjust="spacingAndGlyphs" >Lin APC Cy7</text>
<text x="289.32" y="248.47" font-size="9" text-anchor="start" fill="#f0f0f0" textLength="39.75" lengthAdjust="spacingAndGlyphs" >Composite</text>
<text x="13.50" y="270.20" font-size="9" text-anchor="start" fill="#222" textLength="10.10" lengthAdjust="spacingAndGlyphs" stroke="#222" stroke-width="0.18" >SA</text>
<rect x="26.40" y="285.40" width="314.85" height="43.80" fill="#050808"/>
<rect x="26.40" y="285.40" width="314.85" height="10.80" fill="#222222"/>
<rect x="26.4" y="296.20" width="62.4" height="33.00" fill="url(#gg)"/>
<text x="47.50" y="294.30" font-size="9" text-anchor="start" fill="#f0f0f0" textLength="19.00" lengthAdjust="spacingAndGlyphs" >Ch01</text>
<text x="110.03" y="294.30" font-size="9" text-anchor="start" fill="#f0f0f0" textLength="20.75" lengthAdjust="spacingAndGlyphs" >H2AX</text>
<text x="165.00" y="294.30" font-size="9" text-anchor="start" fill="#f0f0f0" textLength="37.50" lengthAdjust="spacingAndGlyphs" >PE CD150</text>
<text x="224.00" y="294.30" font-size="9" text-anchor="start" fill="#f0f0f0" textLength="45.00" lengthAdjust="spacingAndGlyphs" >Lin APC Cy7</text>
<text x="289.32" y="294.30" font-size="9" text-anchor="start" fill="#f0f0f0" textLength="39.75" lengthAdjust="spacingAndGlyphs" >Composite</text>
<text x="15.00" y="315.20" font-size="9" text-anchor="start" fill="#222" textLength="8.60" lengthAdjust="spacingAndGlyphs" stroke="#222" stroke-width="0.18" >SS</text>
<rect x="26.40" y="438.90" width="314.85" height="47.70" fill="#050808"/>
<rect x="26.40" y="438.90" width="314.85" height="11.95" fill="#222222"/>
<rect x="26.4" y="450.85" width="62.4" height="35.75" fill="url(#gg)"/>
<text x="47.50" y="448.38" font-size="9" text-anchor="start" fill="#f0f0f0" textLength="19.00" lengthAdjust="spacingAndGlyphs" >Ch01</text>
<text x="106.80" y="448.38" font-size="9" text-anchor="start" fill="#f0f0f0" textLength="27.00" lengthAdjust="spacingAndGlyphs" >DCFDA</text>
<text x="165.00" y="448.38" font-size="9" text-anchor="start" fill="#f0f0f0" textLength="37.50" lengthAdjust="spacingAndGlyphs" >PE CD150</text>
<text x="224.00" y="448.38" font-size="9" text-anchor="start" fill="#f0f0f0" textLength="45.00" lengthAdjust="spacingAndGlyphs" >Lin APC Cy7</text>
<text x="289.38" y="448.38" font-size="9" text-anchor="start" fill="#f0f0f0" textLength="39.75" lengthAdjust="spacingAndGlyphs" >Composite</text>
<text x="13.50" y="473.70" font-size="9" text-anchor="start" fill="#222" textLength="10.10" lengthAdjust="spacingAndGlyphs" stroke="#222" stroke-width="0.18" >SA</text>
<rect x="26.40" y="489.15" width="314.85" height="44.55" fill="#050808"/>
<rect x="26.40" y="489.15" width="314.85" height="11.55" fill="#222222"/>
<rect x="26.4" y="500.70" width="62.4" height="33.00" fill="url(#gg)"/>
<text x="47.50" y="498.42" font-size="9" text-anchor="start" fill="#f0f0f0" textLength="19.00" lengthAdjust="spacingAndGlyphs" >Ch01</text>
<text x="106.80" y="498.42" font-size="9" text-anchor="start" fill="#f0f0f0" textLength="27.00" lengthAdjust="spacingAndGlyphs" >DCFDA</text>
<text x="165.00" y="498.42" font-size="9" text-anchor="start" fill="#f0f0f0" textLength="37.50" lengthAdjust="spacingAndGlyphs" >PE CD150</text>
<text x="224.00" y="498.42" font-size="9" text-anchor="start" fill="#f0f0f0" textLength="45.00" lengthAdjust="spacingAndGlyphs" >Lin APC Cy7</text>
<text x="289.38" y="498.42" font-size="9" text-anchor="start" fill="#f0f0f0" textLength="39.75" lengthAdjust="spacingAndGlyphs" >Composite</text>
<text x="15.00" y="516.70" font-size="9" text-anchor="start" fill="#222" textLength="8.60" lengthAdjust="spacingAndGlyphs" stroke="#222" stroke-width="0.18" >SS</text>
<ellipse cx="58.1" cy="265.4" rx="5.6" ry="6.2" fill="#b4b4b4" stroke="#808080" stroke-width="0.7" filter="url(#b1)"/>
<circle cx="58.30" cy="262.80" r="0.8" fill="#6c6c6c" filter="url(#b0)"/>
<circle cx="57.30" cy="266.00" r="0.8" fill="#6c6c6c" filter="url(#b0)"/>
<circle cx="60.10" cy="263.00" r="0.8" fill="#6c6c6c" filter="url(#b0)"/>
<circle cx="59.10" cy="267.40" r="0.8" fill="#6c6c6c" filter="url(#b0)"/>
<circle cx="54.70" cy="268.40" r="0.8" fill="#6c6c6c" filter="url(#b0)"/>
<circle cx="55.90" cy="262.20" r="0.85" fill="#f2f2f2" filter="url(#b0)"/>
<circle cx="55.10" cy="265.90" r="0.85" fill="#f2f2f2" filter="url(#b0)"/>
<circle cx="57.60" cy="269.00" r="0.85" fill="#f2f2f2" filter="url(#b0)"/>
<circle cx="59.10" cy="264.90" r="0.85" fill="#f2f2f2" filter="url(#b0)"/>
<circle cx="61.50" cy="265.60" r="0.85" fill="#f2f2f2" filter="url(#b0)"/>
<circle cx="60.30" cy="268.40" r="0.85" fill="#f2f2f2" filter="url(#b0)"/>
<circle cx="56.50" cy="267.20" r="0.85" fill="#f2f2f2" filter="url(#b0)"/>
<ellipse cx="55.8" cy="313.5" rx="6.3" ry="6.7" fill="#adadad" stroke="#7a7a7a" stroke-width="0.7" filter="url(#b1)"/>
<ellipse cx="55.6" cy="313.8" rx="4.2" ry="4.6" fill="none" stroke="#dedede" stroke-width="0.9" filter="url(#b1)"/>
<path d="M53.6 311.2c-1.6 2.2-0.6 5 1.4 5.6M57.6 311.6c1.8 1.8 1.2 4.2-0.6 5.2" fill="none" stroke="#4a4a4a" stroke-width="0.9" filter="url(#b1)"/>
<ellipse cx="55.9" cy="313.9" rx="1.3" ry="1.9" fill="#ececec" filter="url(#b1)"/>
<ellipse cx="120.4" cy="266.5" rx="4.4" ry="4.9" fill="#1f6a2c" opacity="0.9" filter="url(#b2)"/>
<circle cx="119.80" cy="266.70" r="0.9" fill="#0c2a12" filter="url(#b1)"/>
<circle cx="121.20" cy="267.30" r="0.9" fill="#0c2a12" filter="url(#b1)"/>
<ellipse cx="119.2" cy="314.3" rx="5.3" ry="5.8" fill="#1f8f36" opacity="1" filter="url(#b2)"/>
<circle cx="117.60" cy="313.10" r="1.1" fill="#3fc458" filter="url(#b1)"/>
<circle cx="119.80" cy="315.90" r="1.1" fill="#3fc458" filter="url(#b1)"/>
<circle cx="121.00" cy="312.90" r="1.1" fill="#3fc458" filter="url(#b1)"/>
<ellipse cx="183.85" cy="265.8" rx="7.3" ry="8.1" fill="#d2cb22" opacity="0.24" filter="url(#b2)"/>
<ellipse cx="183.85" cy="265.8" rx="6.8" ry="7.6" fill="url(#rg0)" filter="url(#b0)"/>
<ellipse cx="181.5" cy="313.5" rx="7.2" ry="7.7" fill="#f2ea1e" opacity="0.33" filter="url(#b2)"/>
<ellipse cx="181.5" cy="313.5" rx="6.7" ry="7.2" fill="url(#rg1)" filter="url(#b0)"/>
<ellipse cx="310.15" cy="266.15" rx="7.1" ry="8.2" fill="#cfcf28" opacity="0.24" filter="url(#b2)"/>
<ellipse cx="310.15" cy="266.15" rx="6.6" ry="7.7" fill="url(#rg2)" filter="url(#b0)"/>
<ellipse cx="307.85" cy="313.8" rx="7.2" ry="7.7" fill="#f2ec1e" opacity="0.33" filter="url(#b2)"/>
<ellipse cx="307.85" cy="313.8" rx="6.7" ry="7.2" fill="url(#rg3)" filter="url(#b0)"/>
<ellipse cx="56.4" cy="469.2" rx="5.9" ry="8.1" fill="#bebebe" stroke="#6c6c6c" stroke-width="0.7" filter="url(#b1)"/>
<circle cx="54.80" cy="466.60" r="0.8" fill="#6c6c6c" filter="url(#b0)"/>
<circle cx="58.20" cy="471.40" r="0.8" fill="#6c6c6c" filter="url(#b0)"/>
<circle cx="59.00" cy="466.20" r="0.8" fill="#6c6c6c" filter="url(#b0)"/>
<circle cx="54.40" cy="470.80" r="0.85" fill="#f2f2f2" filter="url(#b0)"/>
<circle cx="56.00" cy="475.20" r="0.85" fill="#f2f2f2" filter="url(#b0)"/>
<circle cx="57.40" cy="468.20" r="0.85" fill="#f2f2f2" filter="url(#b0)"/>
<circle cx="56.60" cy="471.80" r="0.85" fill="#f2f2f2" filter="url(#b0)"/>
<ellipse cx="56.6" cy="469.6" rx="2.6" ry="4.0" fill="none" stroke="#8a8a8a" stroke-width="0.6" filter="url(#b1)"/>
<ellipse cx="56.4" cy="515.5" rx="6.6" ry="7.7" fill="#e9e9e9" stroke="#2e2e2e" stroke-width="1.0" filter="url(#b0)"/>
<ellipse cx="56.8" cy="515.7" rx="3.43" ry="4.47" fill="#9a9a9a" stroke="#5a5a5a" stroke-width="0.6" filter="url(#b1)"/>
<ellipse cx="57.3" cy="515.9" rx="1.32" ry="2.31" fill="#e0e0e0" filter="url(#b1)"/>
<ellipse cx="119.85" cy="469.4" rx="5.0" ry="6.1" fill="#1f6a2a" opacity="0.85" filter="url(#b2)"/>
<ellipse cx="119.85" cy="515.85" rx="5.8" ry="7.0" fill="url(#dg)" opacity="1" filter="url(#b1)"/>
<ellipse cx="119.85" cy="515.85" rx="6.3" ry="7.5" fill="#3fbf38" opacity="0.35" filter="url(#b2)"/>
<ellipse cx="183" cy="469.6" rx="7.1" ry="8.6" fill="#e8e01e" opacity="0.30" filter="url(#b2)"/>
<ellipse cx="183" cy="469.6" rx="6.6" ry="8.1" fill="url(#rg4)" filter="url(#b0)"/>
<ellipse cx="182.6" cy="515.85" rx="7.4" ry="8.4" fill="#cbc420" opacity="0.24" filter="url(#b2)"/>
<ellipse cx="182.6" cy="515.85" rx="6.9" ry="7.9" fill="url(#rg5)" filter="url(#b0)"/>
<ellipse cx="309" cy="469.6" rx="7.1" ry="8.6" fill="#e2e220" opacity="0.30" filter="url(#b2)"/>
<ellipse cx="309" cy="469.6" rx="6.6" ry="8.1" fill="url(#rg6)" filter="url(#b0)"/>
<ellipse cx="308.85" cy="515.85" rx="7.3" ry="8.4" fill="#cfdc2a" opacity="0.27" filter="url(#b2)"/>
<ellipse cx="308.85" cy="515.85" rx="6.8" ry="7.9" fill="url(#rg7)" filter="url(#b0)"/>
<rect x="0.5" y="0.5" width="519" height="540" fill="none" stroke="#111" stroke-width="1"/>
<rect x="0" y="539.7" width="520" height="1.3" fill="#111"/>
<rect x="518.85" y="0" width="1.15" height="541" fill="#111"/>
<rect x="0" y="0" width="1.25" height="541" fill="#111"/>
</g>
</svg>
</body>
</html>
